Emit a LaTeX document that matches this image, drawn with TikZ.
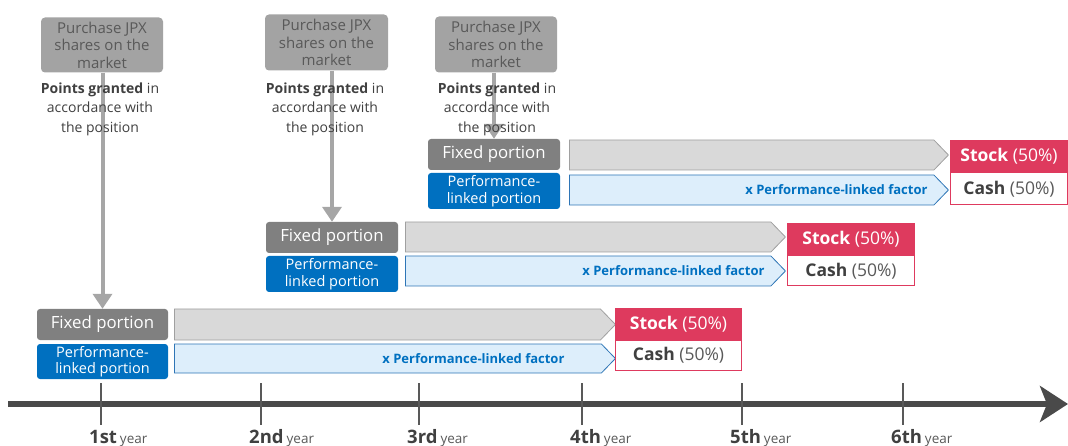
\documentclass[tikz,border=0pt]{standalone}
\usepackage{fontspec}
\setmainfont{Open Sans}
\usetikzlibrary{shapes.symbols,arrows.meta}

\definecolor{buygray}{HTML}{A3A3A3}
\definecolor{buytext}{HTML}{595959}
\definecolor{fixgray}{HTML}{808080}
\definecolor{perfblue}{HTML}{0070C0}
\definecolor{chevgray}{HTML}{D9D9D9}
\definecolor{chevedge}{HTML}{A0A0A0}
\definecolor{chevblue}{HTML}{DDEEFB}
\definecolor{chevblueedge}{HTML}{2E75B6}
\definecolor{factorblue}{HTML}{0070C0}
\definecolor{stockred}{HTML}{DE3A5E}
\definecolor{darktext}{HTML}{404040}
\definecolor{midtext}{HTML}{595959}
\definecolor{feedgray}{HTML}{A6A6A6}
\definecolor{axisgray}{HTML}{4A4A4A}

\tikzset{
  purchase/.style={rounded corners=4pt, fill=buygray, text=buytext, align=center,
    font=\fontsize{15}{17.5}\selectfont, inner sep=0pt},
  points/.style={align=center, text=darktext, font=\fontsize{14}{19.5}\selectfont},
  fixedbox/.style={rounded corners=3pt, fill=fixgray, text=white, inner sep=0pt,
    font=\fontsize{16.8}{17}\selectfont, minimum height=31pt},
  perfbox/.style={rounded corners=3pt, fill=perfblue, text=white, inner sep=0pt, align=center,
    font=\fontsize{14.5}{16.5}\selectfont, minimum height=35pt},
  graychev/.style={signal, signal to=east, signal pointer angle=92, fill=chevgray,
    draw=chevedge, line width=0.8pt, inner sep=0pt, anchor=west},
  bluechev/.style={signal, signal to=east, signal pointer angle=92, fill=chevblue,
    draw=chevblueedge, line width=0.8pt, inner sep=0pt, anchor=west},
  factor/.style={anchor=east, text=factorblue, font=\bfseries\fontsize{13}{15}\selectfont},
  stockbox/.style={fill=stockred, draw=stockred, line width=1pt, text=white, anchor=west,
    inner sep=0pt, font=\fontsize{17.5}{19}\selectfont},
  cashbox/.style={fill=white, draw=stockred, line width=1pt, text=midtext, anchor=north,
    inner sep=0pt, font=\fontsize{17.5}{19}\selectfont},
  feed/.style={draw=feedgray, line width=4pt, -{Triangle[length=15pt,width=19pt]}},
  tick/.style={draw=midtext, line width=1.5pt},
  yearlabel/.style={anchor=base west, text=darktext, inner sep=0pt}
}

\newcommand{\yearlbl}[1]{{\bfseries\fontsize{18.5}{20}\selectfont #1}\hspace{3pt}{\color{midtext}\fontsize{13.5}{15}\selectfont year}}
\newcommand{\stocktxt}{\textbf{Stock} (50\%)}
\newcommand{\cashtxt}{\textbf{\color{darktext}Cash} (50\%)}

\begin{document}
\begin{tikzpicture}[x=1pt,y=-1pt]
\useasboundingbox (0,0) rectangle (1068,446);

% ---- timeline ----
\coordinate (axL) at (8,404);
\coordinate (axR) at (1068,404);
\draw[draw=axisgray, line width=6pt, -{Stealth[length=28pt,width=36pt,inset=7pt]}] (axL) -- (axR);
\foreach \name/\x/\lbl in {y1/101/1st, y2/261/2nd, y3/419/3rd, y4/582/4th, y5/742/5th, y6/903/6th}{
  \coordinate (\name t) at (\x,383);
  \coordinate (\name b) at (\x,425);
  \draw[tick] (\name t) -- (\name b);
  \node[yearlabel] (\name l) at (\x-12,443) {\yearlbl{\lbl}};
}

% ---- first year grant ----
\node[purchase, minimum width=122pt, minimum height=55pt] (p1) at (102,45)
  {Purchase JPX\\shares on the\\market};
\node[fixedbox, minimum width=131pt] (f1) at (102.5,324.5) {Fixed portion};
\node[perfbox, minimum width=131pt] (r1) at (102.5,361.5) {Performance-\\linked portion};
\node[graychev, minimum width=441pt, minimum height=31pt] (g1) at (174,324.5) {};
\node[bluechev, minimum width=441pt, minimum height=29pt] (b1) at (174,358.5) {};
\node[factor] (x1) at (568,358.5) {x Performance-linked factor};
\node[stockbox, minimum width=126pt, minimum height=30pt] (s1) at (615,324) {\stocktxt};
\node[cashbox, minimum width=126pt, minimum height=30pt] (c1) at (s1.south) {\cashtxt};

% ---- second year grant ----
\node[purchase, minimum width=123pt, minimum height=56pt] (p2) at (326.5,42.5)
  {Purchase JPX\\shares on the\\market};
\node[fixedbox, minimum width=132pt] (f2) at (332,237.5) {Fixed portion};
\node[perfbox, minimum width=132pt, minimum height=36pt] (r2) at (332,274) {Performance-\\linked portion};
\node[graychev, minimum width=380pt, minimum height=30pt] (g2) at (405,237) {};
\node[bluechev, minimum width=380pt, minimum height=30pt] (b2) at (405,271) {};
\node[factor] (x2) at (768,271) {x Performance-linked factor};
\node[stockbox, minimum width=127pt, minimum height=31pt] (s2) at (787,239.5) {\stocktxt};
\node[cashbox, minimum width=127pt, minimum height=30pt] (c2) at (s2.south) {\cashtxt};

% ---- third year grant ----
\node[purchase, minimum width=122pt, minimum height=56pt] (p3) at (496,44.5)
  {Purchase JPX\\shares on the\\market};
\node[fixedbox, minimum width=132pt] (f3) at (494,154.5) {Fixed portion};
\node[perfbox, minimum width=132pt, minimum height=36pt] (r3) at (494,191) {Performance-\\linked portion};
\node[graychev, minimum width=379pt, minimum height=30pt] (g3) at (569,155) {};
\node[bluechev, minimum width=379pt, minimum height=30pt] (b3) at (569,190) {};
\node[factor] (x3) at (931,190) {x Performance-linked factor};
\node[stockbox, minimum width=117pt, minimum height=31pt] (s3) at (950,156.5) {\stocktxt};
\node[cashbox, minimum width=117pt, minimum height=32pt] (c3) at (s3.south) {\cashtxt};

% ---- grant arrows (behind the point labels) ----
\draw[feed] (p1.south -| f1.north) -- (f1.north);
\draw[feed] (p2.south -| f2.north) -- (f2.north);
\draw[feed] (p3.south -| f3.north) -- (f3.north);

% ---- point labels ----
\node[points] (n1) at (100,109) {\textbf{Points granted} in\\accordance with\\the position};
\node[points] (n2) at (325,109) {\textbf{Points granted} in\\accordance with\\the position};
\node[points] (n3) at (497,109) {\textbf{Points granted} in\\accordance with\\the position};

\end{tikzpicture}
\end{document}
